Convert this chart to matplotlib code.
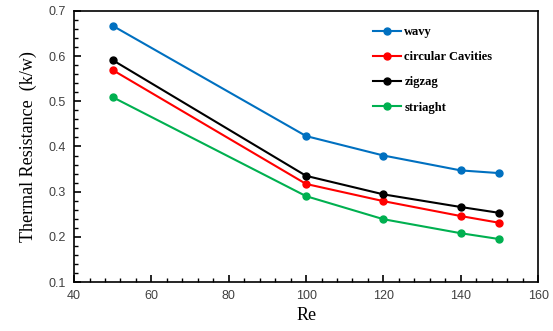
import matplotlib
matplotlib.use("Agg")
import matplotlib.pyplot as plt
from matplotlib.ticker import MultipleLocator

re_vals = [50, 100, 120, 140, 150]
wavy = [0.667, 0.423, 0.380, 0.347, 0.341]
circular = [0.569, 0.317, 0.279, 0.246, 0.231]
zigzag = [0.591, 0.335, 0.294, 0.266, 0.253]
straight = [0.509, 0.290, 0.239, 0.208, 0.195]

fig = plt.figure(figsize=(5.53, 3.31), dpi=100)
ax = fig.add_axes([0.134, 0.148, 0.839, 0.819])

ax.plot(re_vals, wavy, color='#0070C0', marker='o', ms=5, lw=1.5, label='wavy')
ax.plot(re_vals, circular, color='#FF0000', marker='o', ms=5, lw=1.5, label='circular Cavities')
ax.plot(re_vals, zigzag, color='#000000', marker='o', ms=5, lw=1.5, label='zigzag')
ax.plot(re_vals, straight, color='#00B050', marker='o', ms=5, lw=1.5, label='striaght')

ax.set_xlim(40, 160)
ax.set_ylim(0.1, 0.7)
ax.xaxis.set_major_locator(MultipleLocator(20))
ax.xaxis.set_minor_locator(MultipleLocator(4))
ax.yaxis.set_major_locator(MultipleLocator(0.1))
ax.yaxis.set_minor_locator(MultipleLocator(0.02))
ax.tick_params(which='both', direction='in', top=False, right=False,
               labelsize=9, colors='black', labelcolor='#404040')
ax.tick_params(which='major', length=5, width=1.2, pad=6)
ax.tick_params(which='minor', length=3, width=1)
ax.set_yticks([0.1, 0.2, 0.3, 0.4, 0.5, 0.6, 0.7])
ax.set_yticklabels(['0.1', '0.2', '0.3', '0.4', '0.5', '0.6', '0.7'])
for lab in ax.get_xticklabels() + ax.get_yticklabels():
    lab.set_family('Liberation Sans')

for s in ax.spines.values():
    s.set_linewidth(1.2)

ax.set_xlabel('Re', family='Liberation Serif', fontsize=13, labelpad=3)
ax.set_ylabel('Thermal Resistance  (k/w)', family='Liberation Serif', fontsize=13, labelpad=8)

ax.legend(loc='upper left', bbox_to_anchor=(0.62, 0.985), frameon=False,
          prop={'family': 'Liberation Serif', 'weight': 'bold', 'size': 9},
          handlelength=2.2, handletextpad=0.3, labelspacing=1.05)

fig.savefig('out.png', dpi=100)
